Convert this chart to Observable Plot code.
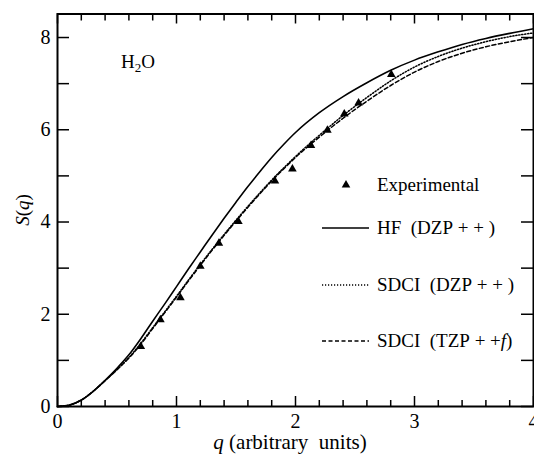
<!DOCTYPE html>
<html><head><meta charset="utf-8">
<script src="https://cdn.jsdelivr.net/npm/d3@7"></script>
<script src="https://cdn.jsdelivr.net/npm/@observablehq/plot@0.6"></script>
<style>
body{margin:0;background:#fff;}
#wrap{position:relative;width:534px;height:455px;}
#wrap svg{display:block;}
#ov{position:absolute;left:0;top:0;pointer-events:none;}
</style></head><body><div id="wrap"></div>
<script>
// ---- data ----
const qGrid = [0,0.1,0.2,0.3,0.4,0.5,0.6,0.7,0.8,0.9,1.0,1.1,1.2,1.3,1.4,1.5,1.6,1.7,1.8,1.9,2.0,2.2,2.4,2.6,2.8,3.0,3.2,3.4,3.6,3.8,4.0];
const hfDZP = [0,0.03,0.14,0.33,0.57,0.83,1.12,1.47,1.85,2.22,2.60,2.98,3.35,3.72,4.08,4.43,4.77,5.09,5.40,5.68,5.94,6.37,6.72,7.02,7.29,7.51,7.69,7.85,7.98,8.09,8.19];
const sdciDZP = [0,0.03,0.14,0.33,0.56,0.80,1.06,1.37,1.71,2.05,2.39,2.74,3.08,3.41,3.73,4.04,4.34,4.63,4.91,5.17,5.42,5.88,6.31,6.70,7.06,7.36,7.59,7.77,7.91,8.02,8.10];
const sdciTZP = [0,0.03,0.14,0.33,0.56,0.80,1.05,1.35,1.69,2.03,2.37,2.72,3.06,3.39,3.71,4.02,4.32,4.61,4.89,5.15,5.40,5.84,6.25,6.62,6.96,7.25,7.48,7.66,7.80,7.91,8.00];
const qExp = [0.70,0.865,1.033,1.20,1.356,1.52,1.827,1.974,2.13,2.268,2.41,2.53,2.805];
const sExp = [1.30,1.88,2.36,3.04,3.54,4.01,4.89,5.15,5.66,5.99,6.34,6.58,7.20];
const xMajor = [0,1,2,3,4];
const xMinor = [0.2,0.4,0.6,0.8,1.2,1.4,1.6,1.8,2.2,2.4,2.6,2.8,3.2,3.4,3.6,3.8];
const yTicks = [0,1,2,3,4,5,6,7,8];
const yLabels = [0,2,4,6,8];

// ---- layout ----
const W = 534, H = 455;
const mt = 13.5, mb = 49, ml = 57, mr = 1;
const iw = W - ml - mr, ih = H - mt - mb;
const FONT = "Liberation Serif";
const NB = "\u00a0";

const rows = qGrid.map((q, i) => ({q, hf: hfDZP[i], d: sdciDZP[i], t: sdciTZP[i]}));
const exp = qExp.map((q, i) => ({q, s: sExp[i]}));

const chart = Plot.plot({
  width: W, height: H,
  marginTop: mt, marginBottom: mb, marginLeft: ml, marginRight: mr,
  style: {fontFamily: FONT, fontSize: "19px", color: "#000", background: "#fff"},
  x: {domain: [0, 4]},
  y: {domain: [0, 8.51]},
  marks: [
    Plot.tickX(xMinor, {x: d => d, insetTop: ih - 6, strokeWidth: 1.5}),
    Plot.tickX(xMajor, {x: d => d, insetTop: ih - 10, strokeWidth: 1.5}),
    Plot.tickX(xMinor, {x: d => d, insetBottom: ih - 7, strokeWidth: 1.5}),
    Plot.tickX(xMajor, {x: d => d, insetBottom: ih - 10, strokeWidth: 1.5}),
    Plot.tickY(yTicks, {y: d => d, insetRight: iw - 12, strokeWidth: 1.5}),
    Plot.tickY(yTicks, {y: d => d, insetLeft: iw - 12, strokeWidth: 1.5}),
    Plot.axisX({ticks: xMajor, tickSize: 0, tickPadding: 7, tickFormat: d3.format("d"), label: null, fontSize: 20, fontFamily: FONT}),
    Plot.axisY({ticks: yLabels, tickSize: 0, tickPadding: 7, tickFormat: d3.format("d"), label: null, fontSize: 20, fontFamily: FONT}),
    Plot.line(rows, {x: "q", y: "hf", curve: "monotone-x", stroke: "#000", strokeWidth: 1.6}),
    Plot.line(rows, {x: "q", y: "d", curve: "monotone-x", stroke: "#000", strokeWidth: 1.5, strokeDasharray: "1.2,1.8"}),
    Plot.line(rows, {x: "q", y: "t", curve: "monotone-x", stroke: "#000", strokeWidth: 1.5, strokeDasharray: "4,2.5"}),
    Plot.dot(exp, {x: "q", y: "s", symbol: "triangle", r: 3.2, fill: "#000", stroke: "none"}),
    Plot.frame({strokeWidth: 2})
  ]
});
const wrap = document.getElementById("wrap");
wrap.appendChild(chart);

const ov = d3.select(wrap).append("svg").attr("id", "ov").attr("width", W).attr("height", H);
const txt = (sel) => sel.append("text").attr("font-family", FONT);

const h = txt(ov).attr("x", 121).attr("y", 68).attr("font-size", 19);
h.append("tspan").text("H");
h.append("tspan").attr("font-size", 13).attr("dy", 4).text("2");
h.append("tspan").attr("dy", -4).text("O");

const xl = txt(ov).attr("x", 290).attr("y", 449).attr("text-anchor", "middle").attr("font-size", 21);
xl.append("tspan").attr("font-style", "italic").text("q");
xl.append("tspan").text(" (arbitrary" + NB + NB + "units)");
const yl = txt(ov).attr("transform", "translate(29,210) rotate(-90)").attr("text-anchor", "middle").attr("font-size", 19);
yl.append("tspan").attr("font-style", "italic").text("S");
yl.append("tspan").text("(");
yl.append("tspan").attr("font-style", "italic").text("q");
yl.append("tspan").text(")");

const lg = ov.append("g").attr("font-size", 19);
lg.append("path").attr("d", d3.symbol(d3.symbolTriangle, Math.PI * 3.2 * 3.2)())
  .attr("transform", "translate(346,185)").attr("fill", "#000");
txt(lg).attr("x", 377).attr("y", 191).text("Experimental");
const items = [
  {y: 228, dash: null, parts: [["HF" + NB + NB + "(DZP" + NB + "+" + NB + "+" + NB + ")", false]]},
  {y: 285, dash: "1.2,1.8", parts: [["SDCI" + NB + NB + "(DZP" + NB + "+" + NB + "+" + NB + ")", false]]},
  {y: 341, dash: "4,2.5", parts: [["SDCI" + NB + NB + "(TZP" + NB + "+" + NB + "+", false], ["f", true], [")", false]]}
];
items.forEach(it => {
  const l = lg.append("line").attr("x1", 322).attr("x2", 369).attr("y1", it.y).attr("y2", it.y)
    .attr("stroke", "#000").attr("stroke-width", 1.5);
  if (it.dash) l.attr("stroke-dasharray", it.dash);
  const t = txt(lg).attr("x", 377).attr("y", it.y + 6);
  it.parts.forEach(([s, ital]) => { const sp = t.append("tspan").text(s); if (ital) sp.attr("font-style", "italic"); });
});
</script></body></html>
